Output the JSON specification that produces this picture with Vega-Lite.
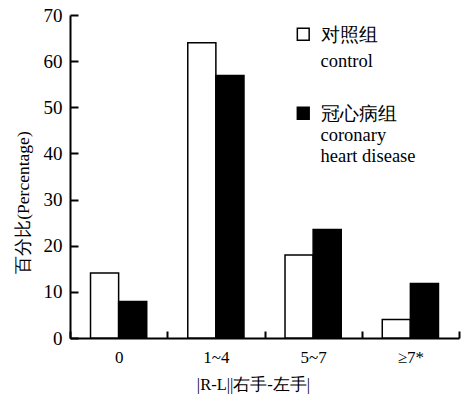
{
  "$schema": "https://vega.github.io/schema/vega-lite/v6.json",
  "autosize": "none",
  "padding": {"left": 70, "top": 15, "right": 3, "bottom": 60},
  "width": 389,
  "height": 323,
  "background": "white",
  "config": {
    "view": {"stroke": null},
    "font": "Liberation Serif",
    "axis": {
      "domainColor": "black",
      "domainWidth": 2,
      "tickColor": "black",
      "tickWidth": 2,
      "grid": false,
      "labelColor": "black",
      "titleColor": "black",
      "labelFont": "Liberation Serif",
      "titleFont": "Liberation Serif",
      "titleFontWeight": "normal"
    }
  },
  "data": {
    "values": [
      {"cat": "0", "group": "对照组|control", "pct": 14.1},
      {"cat": "0", "group": "冠心病组|coronary|heart disease", "pct": 7.9},
      {"cat": "1~4", "group": "对照组|control", "pct": 64.0},
      {"cat": "1~4", "group": "冠心病组|coronary|heart disease", "pct": 56.9},
      {"cat": "5~7", "group": "对照组|control", "pct": 18.0},
      {"cat": "5~7", "group": "冠心病组|coronary|heart disease", "pct": 23.5},
      {"cat": "≥7*", "group": "对照组|control", "pct": 4.0},
      {"cat": "≥7*", "group": "冠心病组|coronary|heart disease", "pct": 11.8}
    ]
  },
  "mark": {"type": "bar", "stroke": "black", "strokeWidth": 1.5},
  "encoding": {
    "x": {
      "field": "cat",
      "type": "nominal",
      "sort": ["0", "1~4", "5~7", "≥7*"],
      "scale": {"paddingInner": 0, "paddingOuter": 0},
      "axis": {
        "title": "|R-L||右手-左手|",
        "labelAngle": 0,
        "labelFontSize": 17,
        "titleFontSize": 16.5,
        "tickBand": "extent",
        "tickSize": -7,
        "labelPadding": 18,
        "titleX": 183,
        "titleY": 46,
        "titleBaseline": "middle"
      }
    },
    "xOffset": {
      "field": "group",
      "type": "nominal",
      "sort": ["对照组|control", "冠心病组|coronary|heart disease"],
      "scale": {"paddingInner": 0, "paddingOuter": 0.73}
    },
    "y": {
      "field": "pct",
      "type": "quantitative",
      "scale": {"domain": [0, 70], "nice": false},
      "axis": {
        "title": "百分比(Percentage)",
        "values": [0, 10, 20, 30, 40, 50, 60, 70],
        "labelFontSize": 19,
        "titleFontSize": 17.5,
        "tickSize": -8,
        "labelPadding": 16,
        "titleAngle": -90,
        "titleX": -47,
        "titleY": 187,
        "titleAlign": "center",
        "titleBaseline": "middle"
      }
    },
    "fill": {
      "field": "group",
      "type": "nominal",
      "sort": ["对照组|control", "冠心病组|coronary|heart disease"],
      "scale": {"range": ["white", "black"]},
      "legend": {
        "title": null,
        "orient": "none",
        "legendX": 224,
        "legendY": 10,
        "symbolType": "square",
        "symbolSize": 140,
        "symbolStrokeColor": "black",
        "symbolStrokeWidth": 1.5,
        "labelExpr": "split(datum.label, '|')",
        "labelFont": "Liberation Serif",
        "labelFontSize": 18.5,
        "labelColor": "black",
        "labelLineHeight": 23,
        "labelBaseline": "top",
        "labelOffset": 8,
        "labelLimit": 200,
        "rowPadding": 33,
        "encode": {"labels": {"update": {"dy": {"value": -8}, "lineHeight": {"signal": "datum.index === 0 ? 26 : 21"}}}}
      }
    }
  }
}
